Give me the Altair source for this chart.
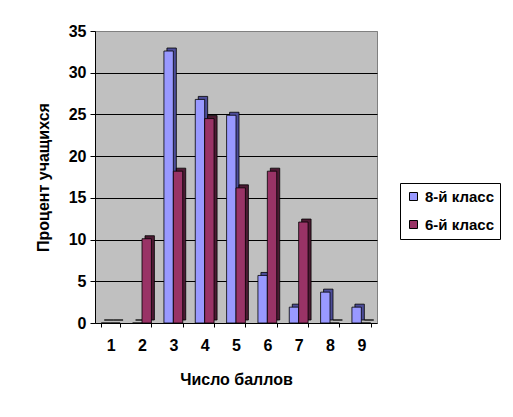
import altair as alt
import pandas as pd

categories = ["1", "2", "3", "4", "5", "6", "7", "8", "9"]
series_names = ["8-й класс", "6-й класс"]
values_8 = [0, 0, 32.6, 26.8, 24.9, 5.7, 1.9, 3.7, 1.9]
values_6 = [0, 10.1, 18.2, 24.5, 16.2, 18.2, 12.1, 0, 0]
front_colors = ["#9999FF", "#993366"]
side_colors = ["#4D4D99", "#4D1A33"]

rows = []
for c, a, b in zip(categories, values_8, values_6):
    rows.append({"cat": c, "series": series_names[0], "value": a})
    rows.append({"cat": c, "series": series_names[1], "value": b})
df = pd.DataFrame(rows)

FONT = "Liberation Sans"

x_enc = alt.X(
    "cat:N",
    sort=categories,
    scale=alt.Scale(paddingInner=0.4, paddingOuter=0.2),
    axis=alt.Axis(
        title="Число баллов",
        labelAngle=0,
        tickBand="extent",
        tickSize=4,
        labelPadding=10,
        titleY=56,
        titleBaseline="middle",
    ),
)
y_enc = alt.Y(
    "value:Q",
    scale=alt.Scale(domain=[0, 35], nice=False),
    axis=alt.Axis(
        title="Процент учащихся",
        values=[0, 5, 10, 15, 20, 25, 30, 35],
        tickSize=5,
        labelPadding=4,
        grid=True,
        gridColor={"condition": {"test": "datum.value === 35 || datum.value === 0", "value": "#808080"}, "value": "black"},
        titleX=-52,
        titleY=146,
        titleBaseline="middle",
        titleAlign="center",
    ),
)

shadow = alt.Chart(df).mark_bar(yOffset=-3, stroke="black", strokeWidth=0.8).encode(
    x=x_enc,
    xOffset=alt.XOffset("series:N", sort=series_names, scale=alt.Scale(range=[3, 21.8])),
    y=y_enc,
    color=alt.Color("series:N", sort=series_names,
                    scale=alt.Scale(domain=series_names, range=side_colors), legend=None),
)

front = alt.Chart(df).mark_bar(stroke="black", strokeWidth=0.8).encode(
    x=x_enc,
    xOffset=alt.XOffset("series:N", sort=series_names, scale=alt.Scale(range=[0, 18.8])),
    y=y_enc,
    fill=alt.Fill("series:N", sort=series_names,
                  scale=alt.Scale(domain=series_names, range=front_colors),
                  legend=alt.Legend(
                      title=None,
                      orient="none",
                      legendX=305,
                      legendY=152,
                      symbolType="square",
                      symbolSize=64,
                      symbolStrokeColor="black",
                      symbolStrokeWidth=1,
                      labelFontSize=15,
                      labelFont=FONT,
                      labelFontWeight="bold",
                      labelColor="black",
                      strokeColor="black",
                      padding=6,
                      rowPadding=12,
                  )),
)

chart = (
    alt.layer(shadow, front)
    .resolve_scale(color="independent", xOffset="independent")
    .properties(
        width=282,
        height=292,
        autosize=alt.AutoSizeParams(type="none"),
        padding={"left": 87, "top": 23, "right": 128, "bottom": 86},
        background="white",
    )
    .configure_view(fill="#C0C0C0", stroke="#808080", strokeWidth=1)
    .configure_axis(
        labelFont=FONT,
        labelFontSize=16,
        labelFontWeight="bold",
        labelColor="black",
        titleFont=FONT,
        titleFontSize=16,
        titleFontWeight="bold",
        titleColor="black",
        domainColor="black",
        tickColor="black",
    )
)

chart.save("out.html", embed_options={"renderer": "svg", "actions": False})
